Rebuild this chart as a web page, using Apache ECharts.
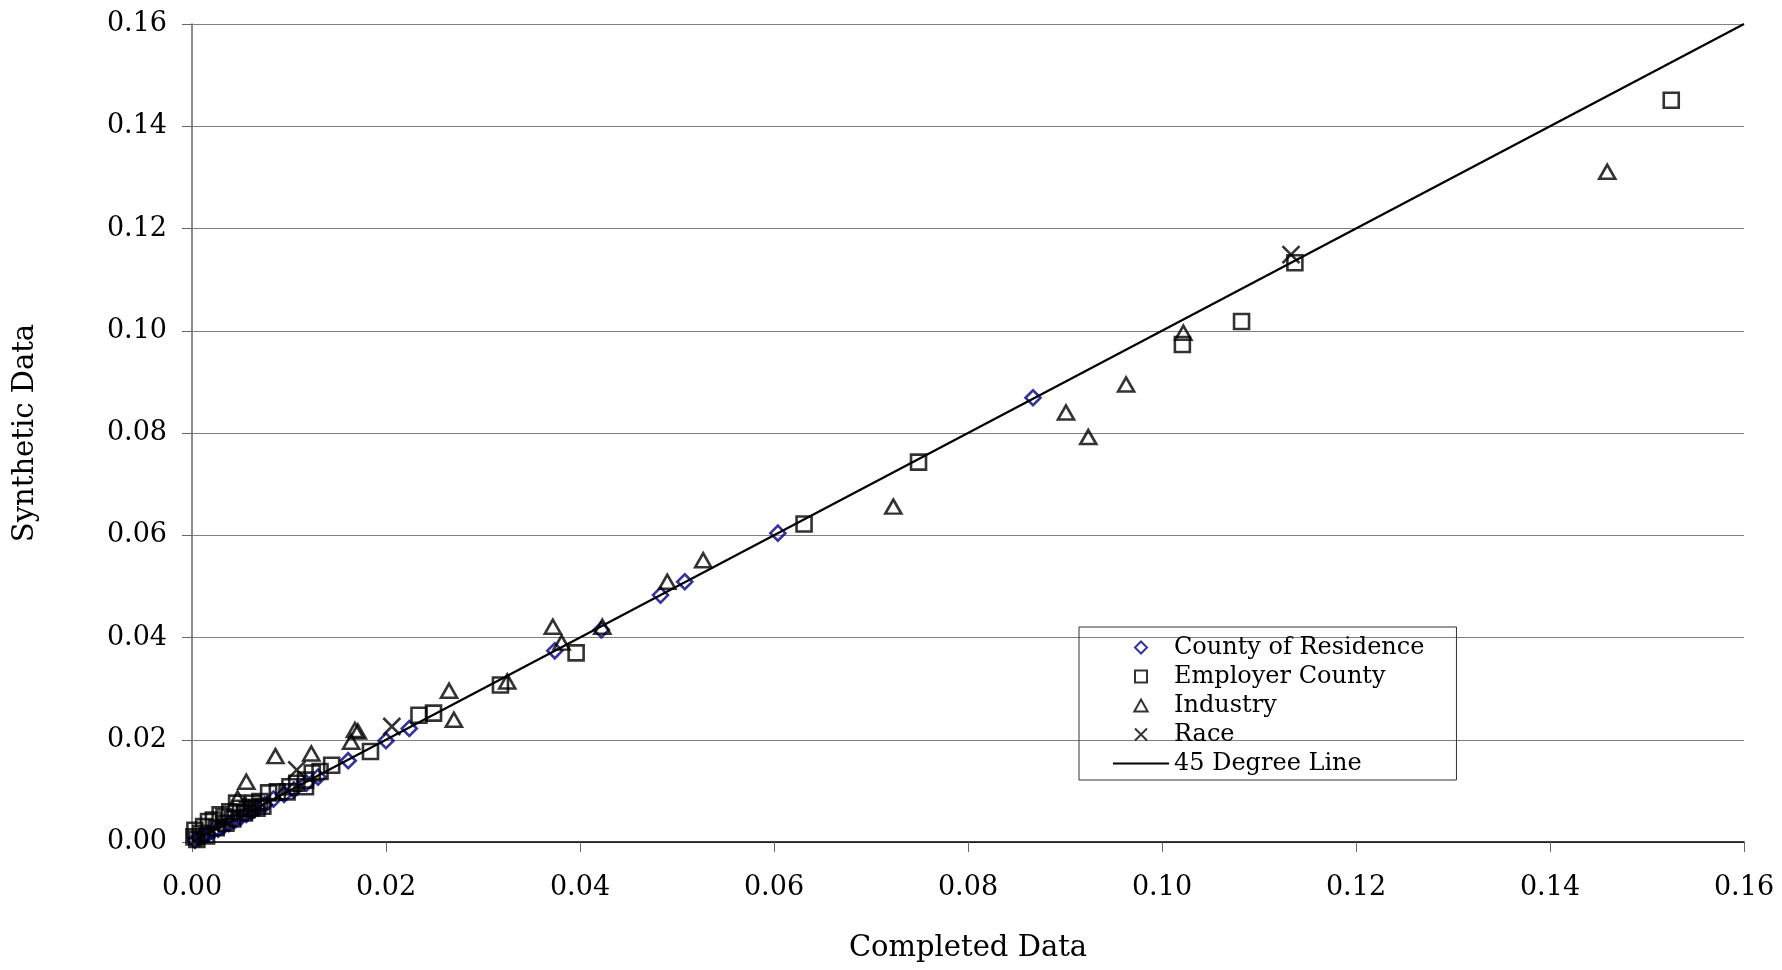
<!DOCTYPE html>
<html>
<head>
<meta charset="utf-8">
<script src="https://cdn.jsdelivr.net/npm/echarts@6/dist/echarts.min.js"></script>
<style>
  html, body { margin: 0; padding: 0; background: #fff; }
  #chart { width: 1782px; height: 970px; }
</style>
</head>
<body>
<div id="chart"></div>
<script>
// [completed, synthetic] pairs
const countyOfResidence = [
  [0.0003, 0.0003], [0.0008, 0.0007], [0.0012, 0.0011], [0.0016, 0.0015],
  [0.0021, 0.0020], [0.0027, 0.0025], [0.0032, 0.0030], [0.0038, 0.0036],
  [0.0044, 0.0042], [0.0050, 0.0048], [0.0056, 0.0054], [0.0062, 0.0060],
  [0.0068, 0.0066], [0.0075, 0.0073], [0.0084, 0.0084], [0.0095, 0.0093],
  [0.0105, 0.0102], [0.0118, 0.0115], [0.0130, 0.0127], [0.0161, 0.0159],
  [0.0200, 0.0198], [0.0224, 0.0222], [0.0374, 0.0374], [0.0422, 0.0415],
  [0.0483, 0.0483], [0.0508, 0.0509], [0.0604, 0.0604], [0.0867, 0.0869]
]

const employerCounty = [
  [0.0002, 0.0010], [0.0003, 0.0023], [0.0005, 0.0005], [0.0009, 0.0017],
  [0.0012, 0.0030], [0.0015, 0.0012], [0.0017, 0.0040], [0.0022, 0.0043],
  [0.0025, 0.0028], [0.0029, 0.0053], [0.0033, 0.0049], [0.0035, 0.0037],
  [0.0039, 0.0059], [0.0042, 0.0045], [0.0046, 0.0076], [0.0050, 0.0066],
  [0.0054, 0.0057], [0.0057, 0.0063], [0.0060, 0.0068], [0.0063, 0.0076],
  [0.0067, 0.0066], [0.0070, 0.0079], [0.0073, 0.0070], [0.0079, 0.0096],
  [0.0088, 0.0098], [0.0098, 0.0098], [0.0101, 0.0108], [0.0108, 0.0115],
  [0.0117, 0.0108], [0.0117, 0.0121], [0.0124, 0.0135], [0.0132, 0.0138],
  [0.0144, 0.0150], [0.0184, 0.0177], [0.0234, 0.0248], [0.0249, 0.0252],
  [0.0318, 0.0307], [0.0396, 0.0370], [0.0631, 0.0622], [0.0749, 0.0743],
  [0.1021, 0.0973], [0.1082, 0.1018], [0.1137, 0.1133], [0.1525, 0.1451]
]

const industry = [
  [0.0047, 0.0085], [0.0056, 0.0118], [0.0086, 0.0168], [0.0123, 0.0173],
  [0.0164, 0.0196], [0.0168, 0.0219], [0.0171, 0.0216], [0.0265, 0.0296],
  [0.0270, 0.0239], [0.0325, 0.0314], [0.0372, 0.0421], [0.0381, 0.0390],
  [0.0423, 0.0421], [0.0490, 0.0509], [0.0527, 0.0551], [0.0723, 0.0656],
  [0.0901, 0.0840], [0.0924, 0.0792], [0.0963, 0.0895], [0.1022, 0.0996],
  [0.1459, 0.1311]
]

const race = [
  [0.0108, 0.0141], [0.0206, 0.0226], [0.1133, 0.1149]
]

const degreeLine = [[0, 0], [0.16, 0.16]]

const axisTicks = [0, 0.02, 0.04, 0.06, 0.08, 0.10, 0.12, 0.14, 0.16]

const font = "DejaVu Serif"
const chart = echarts.init(document.getElementById("chart"))

// path symbols so the legend keeps them square
const DIAMOND = "path://M5,0L10,5L5,10L0,5Z"
const SQUARE = "path://M0,0H10V10H0Z"
const TRIANGLE = "path://M5,0L10,9L0,9Z"
const CROSS = "path://M0,0L10,10M10,0L0,10"

const outline = (c, w) => ({ color: "transparent", borderColor: c, borderWidth: w || 2.6 })

const option = {
  animation: false,
  backgroundColor: "#fff",
  grid: { left: 192, right: 38, top: 24, bottom: 128 },
  legend: {
    orient: "vertical",
    left: 1079,
    top: 627,
    padding: [6, 32, 2, 33],
    itemGap: 0,
    itemWidth: 56,
    itemHeight: 12,
    itemTextGap: 8,
    symbolKeepAspect: true,
    borderColor: "#333",
    borderWidth: 1,
    textStyle: { fontFamily: font, fontSize: 24, color: "#000", lineHeight: 29 },
    data: [
      { name: "County of Residence" },
      { name: "Employer County" },
      { name: "Industry" },
      { name: "Race" },
      { name: "45 Degree Line", itemStyle: { color: "transparent", borderWidth: 0, opacity: 0 } }
    ]
  },
  xAxis: {
    type: "value",
    min: axisTicks[0],
    max: axisTicks[axisTicks.length - 1],
    interval: 0.02,
    name: "Completed Data",
    nameLocation: "middle",
    nameGap: 92,
    nameTextStyle: { fontFamily: font, fontSize: 29, color: "#000" },
    axisLine: { lineStyle: { color: "#000", width: 1.5 } },
    axisTick: { show: true, length: 10, lineStyle: { color: "#666" } },
    axisLabel: {
      margin: 32, fontFamily: font, fontSize: 27, color: "#000",
      formatter: (v) => v.toFixed(2)
    },
    splitLine: { show: false }
  },
  yAxis: {
    type: "value",
    min: axisTicks[0],
    max: axisTicks[axisTicks.length - 1],
    interval: 0.02,
    name: "Synthetic Data",
    nameLocation: "middle",
    nameGap: 152,
    nameTextStyle: { fontFamily: font, fontSize: 29, color: "#000" },
    axisLine: { show: true, lineStyle: { color: "#666", width: 1.5 } },
    axisTick: { show: true, length: 10, lineStyle: { color: "#666" } },
    axisLabel: {
      margin: 25, fontFamily: font, fontSize: 27, color: "#000",
      formatter: (v) => v.toFixed(2)
    },
    splitLine: { show: true, lineStyle: { color: "#808080", width: 1.2 } }
  },
  series: [
    {
      name: "County of Residence",
      type: "scatter",
      symbol: DIAMOND,
      symbolSize: 15,
      symbolKeepAspect: true,
      itemStyle: outline("#000080", 2.6),
      data: countyOfResidence
    },
    {
      name: "Employer County",
      type: "scatter",
      symbol: SQUARE,
      symbolSize: 15,
      symbolKeepAspect: true,
      itemStyle: outline("#000"),
      data: employerCounty
    },
    {
      name: "Industry",
      type: "scatter",
      symbol: TRIANGLE,
      symbolSize: [16, 14],
      itemStyle: outline("#000"),
      data: industry
    },
    {
      name: "Race",
      type: "scatter",
      symbol: CROSS,
      symbolSize: 17,
      itemStyle: outline("#000", 2.6),
      data: race
    },
    {
      name: "45 Degree Line",
      type: "line",
      symbol: "none",
      lineStyle: { color: "#000", width: 2.2 },
      data: degreeLine
    }
  ]
}

chart.setOption(option)
</script>
</body>
</html>
